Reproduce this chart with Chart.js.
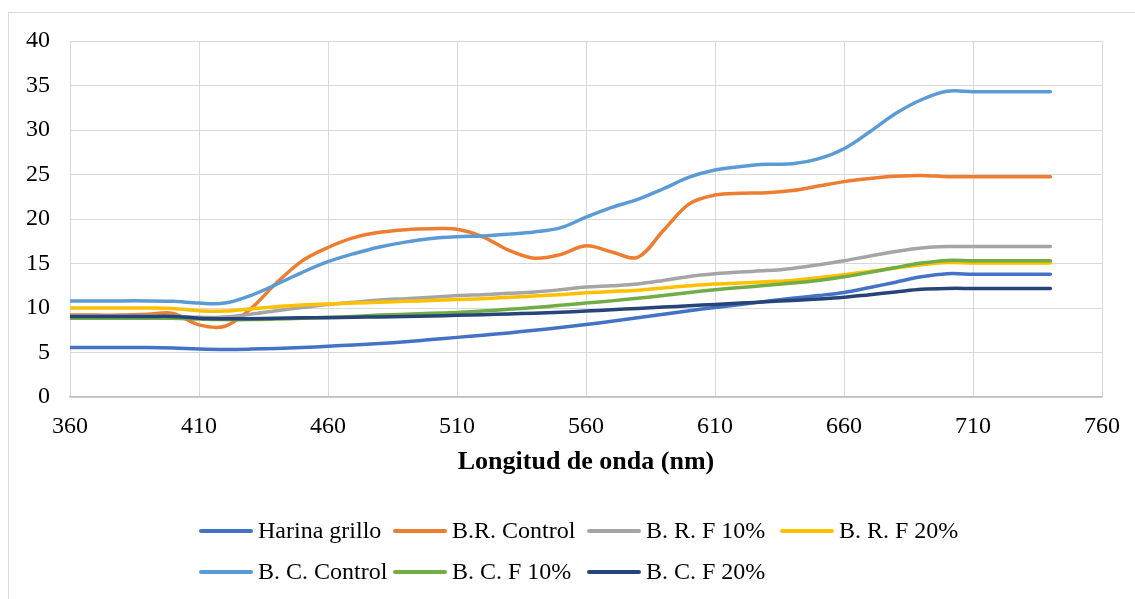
<!DOCTYPE html>
<html>
<head>
<meta charset="utf-8">
<title>Longitud de onda</title>
<script src="https://cdn.jsdelivr.net/npm/chart.js@4.4.1/dist/chart.umd.min.js"></script>
<style>
    html, body { margin: 0; padding: 0; background: #fff; overflow: hidden; }
    #frame { position: absolute; left: 8px; top: 12px; width: 1200px; height: 700px; border: 1px solid #d9d9d9; }
    #wrap { position: absolute; left: 0; top: 0; width: 1135px; height: 599px; }
</style>
</head>
<body>
<div id="frame"></div>
<div id="wrap"><canvas id="reflectChart"></canvas></div>
<script>
// =====================
// Data
// =====================
const wavelengths = [360, 370, 380, 390, 400, 410, 420, 430, 440, 450, 460, 470, 480, 490, 500,
    510, 520, 530, 540, 550, 560, 570, 580, 590, 600, 610, 620, 630, 640, 650,
    660, 670, 680, 690, 700, 710, 720, 730, 740];

const harinaGrillo = [5.55, 5.55, 5.55, 5.55, 5.5, 5.4, 5.35, 5.38, 5.45, 5.55, 5.7, 5.85, 6.0, 6.2, 6.45,
    6.7, 6.95, 7.2, 7.5, 7.8, 8.15, 8.5, 8.9, 9.3, 9.7, 10.05, 10.4, 10.75, 11.1, 11.4,
    11.75, 12.3, 12.9, 13.5, 13.85, 13.8, 13.8, 13.8, 13.8];

const brControl = [9.2, 9.2, 9.2, 9.3, 9.4, 8.1, 7.95, 9.9, 12.8, 15.3, 16.8, 17.9, 18.5, 18.8, 18.9,
    18.85, 18.0, 16.5, 15.6, 16.0, 17.0, 16.3, 15.7, 18.7, 21.7, 22.7, 22.9, 22.95, 23.2, 23.7,
    24.2, 24.55, 24.8, 24.9, 24.75, 24.75, 24.75, 24.75, 24.75];

const brF10 = [9.1, 9.1, 9.1, 9.1, 9.1, 8.95, 9.0, 9.3, 9.7, 10.05, 10.4, 10.65, 10.9, 11.05, 11.2,
    11.4, 11.5, 11.65, 11.8, 12.05, 12.35, 12.5, 12.7, 13.1, 13.55, 13.85, 14.05, 14.2, 14.45, 14.85,
    15.3, 15.85, 16.35, 16.75, 16.9, 16.9, 16.9, 16.9, 16.9];

const brF20 = [10.0, 10.0, 10.0, 10.0, 9.95, 9.7, 9.65, 9.9, 10.15, 10.35, 10.45, 10.55, 10.65, 10.75, 10.85,
    10.95, 11.05, 11.2, 11.35, 11.5, 11.7, 11.85, 12.0, 12.25, 12.5, 12.7, 12.8, 12.95, 13.1, 13.4,
    13.75, 14.1, 14.5, 14.85, 15.1, 15.05, 15.05, 15.05, 15.05];

const bcControl = [10.8, 10.8, 10.8, 10.8, 10.75, 10.55, 10.55, 11.4, 12.65, 14.0, 15.2, 16.1, 16.85, 17.4, 17.8,
    18.0, 18.1, 18.3, 18.55, 19.0, 20.2, 21.3, 22.2, 23.4, 24.7, 25.5, 25.9, 26.15, 26.2, 26.75,
    27.9, 29.8, 31.85, 33.4, 34.35, 34.3, 34.3, 34.3, 34.3];

const bcF10 = [8.85, 8.85, 8.85, 8.85, 8.85, 8.75, 8.7, 8.7, 8.75, 8.85, 8.95, 9.05, 9.2, 9.3, 9.4,
    9.5, 9.65, 9.85, 10.05, 10.3, 10.55, 10.8, 11.1, 11.4, 11.75, 12.05, 12.3, 12.55, 12.8, 13.1,
    13.5, 14.0, 14.55, 15.05, 15.35, 15.3, 15.3, 15.3, 15.3];

const bcF20 = [9.05, 9.05, 9.05, 9.05, 9.05, 8.85, 8.8, 8.8, 8.85, 8.9, 8.9, 8.95, 9.0, 9.05, 9.1,
    9.18, 9.25, 9.33, 9.42, 9.52, 9.65, 9.8, 9.95, 10.1, 10.25, 10.4, 10.55, 10.7, 10.85, 11.0,
    11.2, 11.5, 11.8, 12.1, 12.2, 12.2, 12.2, 12.2, 12.2];

const seriesNames = ["Harina grillo", "B.R. Control", "B. R. F 10%", "B. R. F 20%",
    "B. C. Control", "B. C. F 10%", "B. C. F 20%"];
const seriesValues = [harinaGrillo, brControl, brF10, brF20, bcControl, bcF10, bcF20];
const seriesColors = ["#4472C4", "#ED7D31", "#A5A5A5", "#FFC000", "#5B9BD5", "#70AD47", "#264478"];

const xTicks = { min: 360, max: 760, step: 50 };
const yTicks = { min: 0, max: 40, step: 5 };
const xTitle = "Longitud de onda (nm)";

// =====================
// Styling
// =====================
const FONT = "'Liberation Serif', 'Times New Roman', serif";
const GRID = "#d9d9d9";

// =====================
// Legend (Excel style grid, drawn on the canvas)
// =====================
const legendGrid = {
    id: "legendGrid",
    afterDraw(chart) {
        const ctx = chart.ctx;
        const cols = [199, 393, 587, 780];
        const rows = [531, 572];
        ctx.save();
        ctx.font = "24px " + FONT;
        ctx.textBaseline = "middle";
        ctx.textAlign = "left";
        chart.data.datasets.forEach((ds, i) => {
            const x = cols[i % 4];
            const y = rows[Math.floor(i / 4)];
            ctx.strokeStyle = ds.borderColor;
            ctx.lineWidth = 4;
            ctx.lineCap = "round";
            ctx.beginPath();
            ctx.moveTo(x + 2, y);
            ctx.lineTo(x + 52, y);
            ctx.stroke();
            ctx.fillStyle = "#000";
            ctx.fillText(ds.label, x + 59, y + 1);
        });
        ctx.restore();
    }
};

// =====================
// Build Chart
// =====================
const datasets = seriesNames.map((name, i) => ({
    label: name,
    data: wavelengths.map((w, j) => ({ x: w, y: seriesValues[i][j] })),
    borderColor: seriesColors[i],
    backgroundColor: seriesColors[i],
    borderWidth: 3.5,
    borderCapStyle: "round",
    pointRadius: 0,
    tension: 0.35,
    fill: false,
    order: seriesNames.length - i
}));

const ctx = document.getElementById("reflectChart").getContext("2d");
new Chart(ctx, {
    type: "line",
    data: { datasets },
    options: {
        responsive: true,
        maintainAspectRatio: false,
        animation: false,
        layout: { padding: { top: 41, right: 33, bottom: 0, left: 0 } },
        plugins: {
            legend: { display: false },
            tooltip: { enabled: false }
        },
        scales: {
            x: {
                type: "linear",
                min: xTicks.min,
                max: xTicks.max,
                afterFit: scale => { scale.height = 202; },
                ticks: {
                    stepSize: xTicks.step,
                    padding: 15,
                    color: "#000",
                    font: { family: FONT, size: 24 },
                    maxRotation: 0
                },
                grid: { color: GRID, lineWidth: 1, drawTicks: false },
                border: { color: "#bfbfbf", width: 1.5 },
                title: {
                    display: true,
                    text: xTitle,
                    color: "#000",
                    font: { family: FONT, size: 26, weight: "bold" },
                    padding: { top: 0, bottom: 121 }
                }
            },
            y: {
                min: yTicks.min,
                max: yTicks.max,
                afterFit: scale => { scale.width = 70; },
                ticks: {
                    stepSize: yTicks.step,
                    padding: 20,
                    color: "#000",
                    font: { family: FONT, size: 24 }
                },
                grid: { color: GRID, lineWidth: 1, drawTicks: false },
                border: { display: false }
            }
        }
    },
    plugins: [legendGrid]
});
</script>
</body>
</html>
